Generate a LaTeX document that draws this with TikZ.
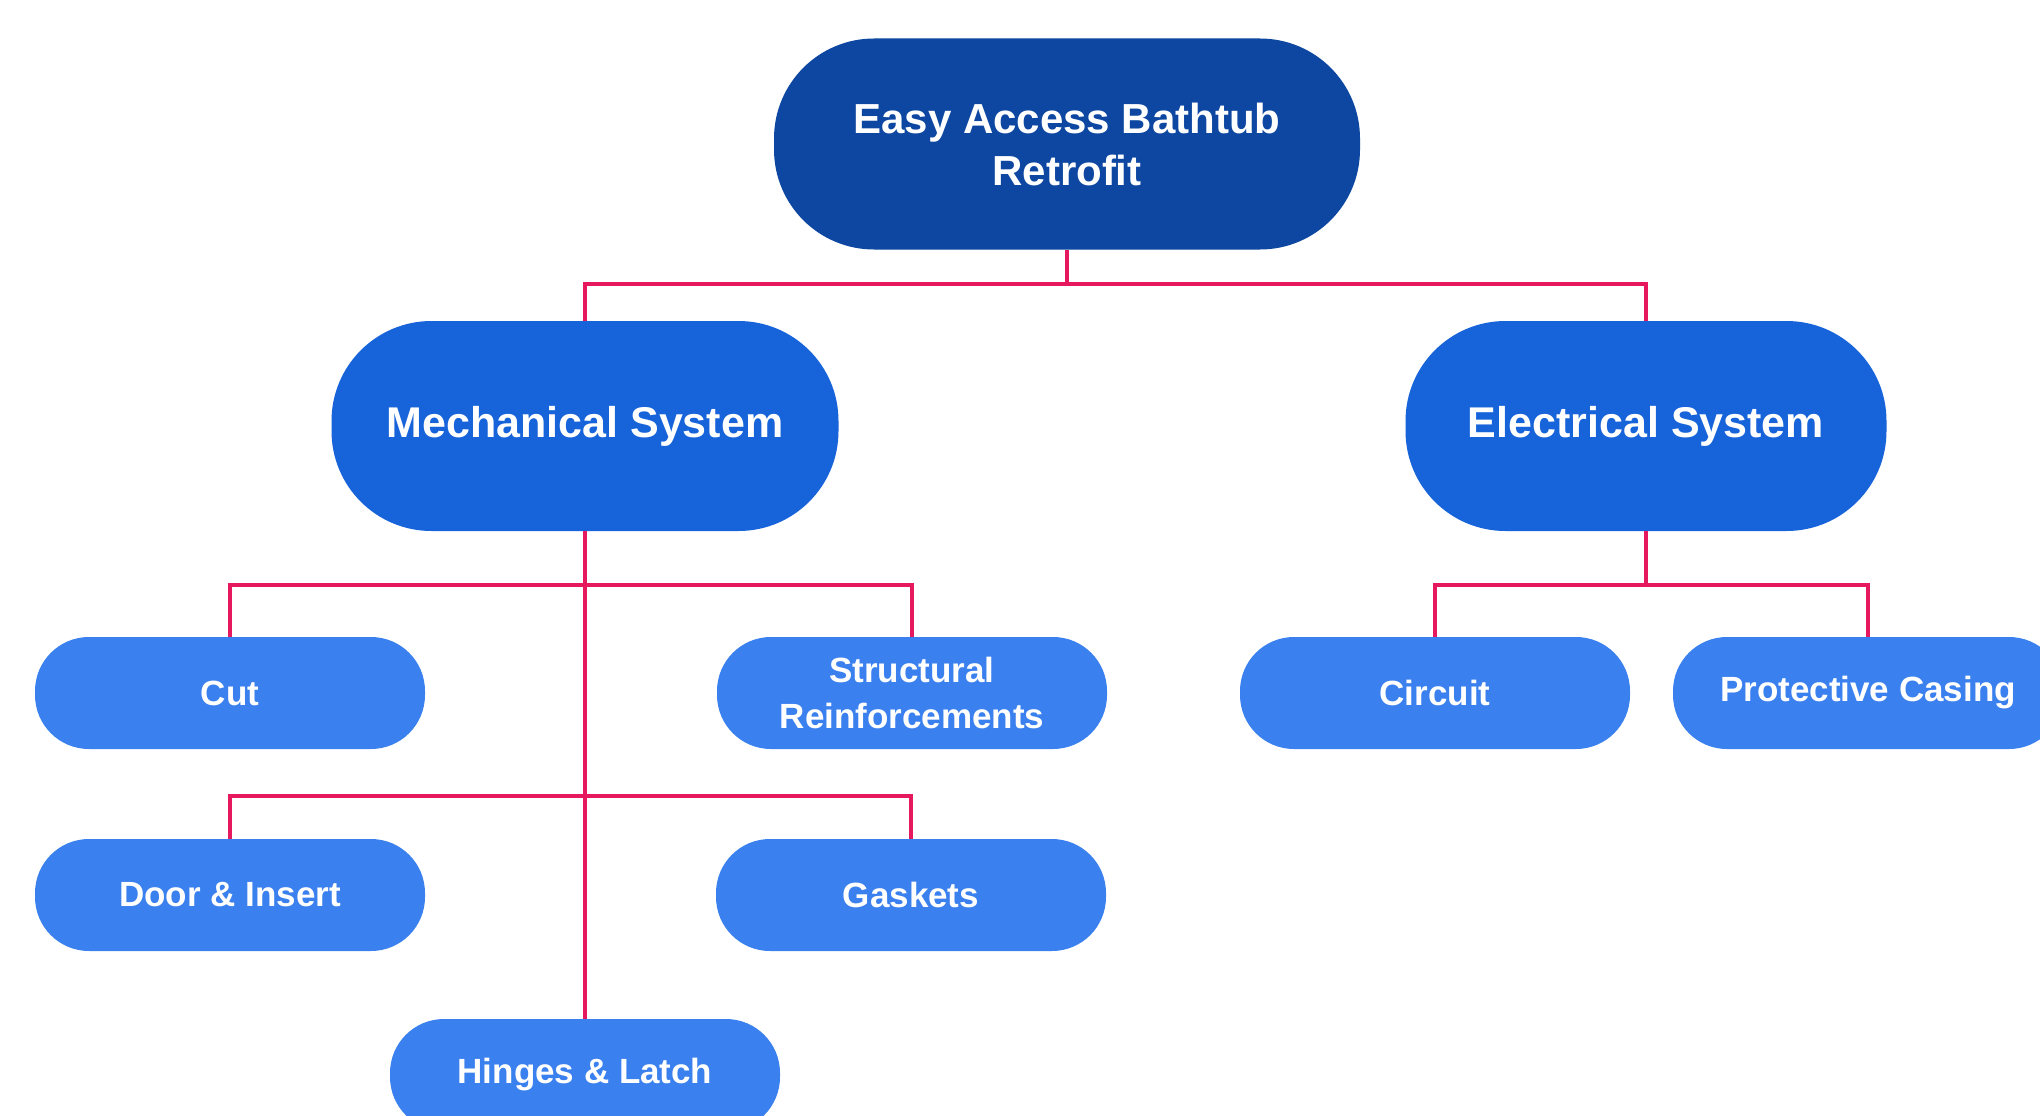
\documentclass[tikz,border=0pt]{standalone}
\usepackage{fontspec}
\setmainfont{Liberation Sans}
\definecolor{rootc}{HTML}{0D47A1}
\definecolor{midc}{HTML}{1763DA}
\definecolor{leafc}{HTML}{3A80EE}
\definecolor{connc}{HTML}{E6195F}
\tikzset{
  rootbox/.style={fill=rootc, text=white, rounded corners=100pt, minimum width=586pt, minimum height=211pt, inner sep=0pt, align=center, font=\fontsize{42}{52}\selectfont\bfseries},
  midbox/.style={fill=midc, text=white, rounded corners=100pt, minimum height=210pt, inner sep=0pt, align=center, font=\fontsize{43}{52}\selectfont\bfseries},
  leafbox/.style={fill=leafc, text=white, rounded corners=54pt, minimum width=390pt, minimum height=112pt, inner sep=0pt, align=center, font=\fontsize{35}{46}\selectfont\bfseries},
  conn/.style={draw=connc, line width=3.5pt}
}
\begin{document}
\begin{tikzpicture}[x=1pt, y=-1pt]
\useasboundingbox (0,0) rectangle (2040,1116);
\fill[white] (0,0) rectangle (2040,1116);
\clip (0,0) rectangle (2040,1116);
\coordinate (b1) at (1067,284);
\coordinate (m1) at (585,585);
\coordinate (m2) at (585,796);
\coordinate (e1) at (1646,585);
% nodes
\node[rootbox] (root) at (1067,144) {Easy Access Bathtub\\Retrofit};
\node[midbox, minimum width=507pt] (mech) at (585,426) {Mechanical System};
\node[midbox, minimum width=481pt] (elec) at (1646,426) {Electrical System};
\node[leafbox] (cut) at (230,693) {Cut};
\node[leafbox] (struct) at (912,693) {Structural\\Reinforcements};
\node[leafbox] (door) at (230,895) {Door \& Insert};
\node[leafbox] (gask) at (911,895) {Gaskets};
\node[leafbox] (hinge) at (585,1075) {Hinges \& Latch};
\node[leafbox] (circ) at (1435,693) {Circuit};
\node[leafbox] (prot) at (1868,693) {Protective Casing};
% connectors
\draw[conn] (root.south) -- (b1);
\draw[conn] (mech.north) |- (b1) -| (elec.north);
\draw[conn] (mech.south) -- (hinge.north);
\draw[conn] (cut.north) |- (m1) -| (struct.north);
\draw[conn] (door.north) |- (m2) -| (gask.north);
\draw[conn] (elec.south) -- (e1);
\draw[conn] (circ.north) |- (e1) -| (prot.north);
\end{tikzpicture}
\end{document}
